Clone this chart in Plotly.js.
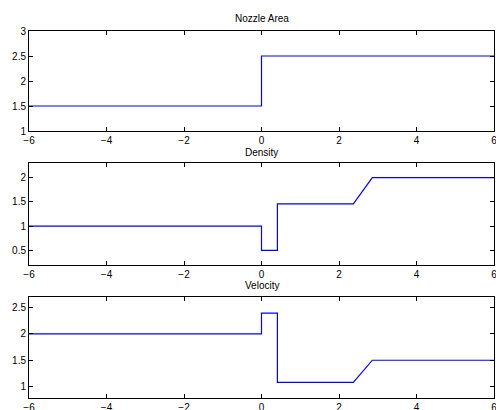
<!DOCTYPE html>
<html>
<head>
<meta charset="utf-8">
<script src="https://cdn.plot.ly/plotly-3.0.1.min.js"></script>
<style>html,body{margin:0;padding:0;background:#fff;}#chart{width:496px;height:410px;}</style>
</head>
<body>
<div id="chart"></div>
<script>
// Nozzle area profile
const areaX = [-6, 0, 0, 6];
const areaY = [1.5, 1.5, 2.5, 2.5];
// Density profile
const densX = [-6, 0, 0, 0.41, 0.41, 2.37, 2.86, 6];
const densY = [1.0, 1.0, 0.5, 0.5, 1.46, 1.46, 2.0, 2.0];
// Velocity profile
const velX = [-6, 0, 0, 0.41, 0.41, 2.37, 2.86, 6];
const velY = [2.0, 2.0, 2.39, 2.39, 1.08, 1.08, 1.5, 1.5];
// Tick values
const xTicks = [-6, -4, -2, 0, 2, 4, 6];
const areaTicks = [1, 1.5, 2, 2.5, 3];
const densTicks = [0.5, 1, 1.5, 2];
const velTicks = [1, 1.5, 2, 2.5];
const titles = ["Nozzle Area", "Density", "Velocity"];

const line = {color: '#0000ff', width: 1.2};
const traces = [
  {x: areaX, y: areaY, xaxis: 'x', yaxis: 'y', mode: 'lines', line: line, hoverinfo: 'skip'},
  {x: densX, y: densY, xaxis: 'x2', yaxis: 'y2', mode: 'lines', line: line, hoverinfo: 'skip'},
  {x: velX, y: velY, xaxis: 'x3', yaxis: 'y3', mode: 'lines', line: line, hoverinfo: 'skip'}
];

const font = {family: 'Liberation Sans, Arial, Helvetica, sans-serif', size: 10, color: '#000'};
function xax(anchor) {
  return {anchor: anchor, range: [-6, 6], tickvals: xTicks, ticktext: xTicks.map(v => v < 0 ? '\u2212' + (-v) : String(v)),
    ticks: 'inside', ticklen: 4, tickcolor: '#000', showline: true, linecolor: '#000', linewidth: 1,
    mirror: 'ticks', showgrid: false, zeroline: false, tickfont: font, domain: [0, 1],
    ticklabeloverflow: 'allow'};
}
function yax(anchor, range, ticks, dom) {
  return {anchor: anchor, range: range, tickvals: ticks, ticks: 'inside', ticklen: 4, tickcolor: '#000',
    showline: true, linecolor: '#000', linewidth: 1, mirror: 'ticks', showgrid: false, zeroline: false,
    tickfont: font, domain: dom, ticklabeloverflow: 'allow'};
}
const H = 410;
const d1 = [1 - 131 / H, 1 - 31 / H];
const d2 = [1 - 265 / H, 1 - 163 / H];
const d3 = [1 - 398.3 / H, 1 - 297.3 / H];
const layout = {
  width: 496, height: 410,
  margin: {l: 29, r: 2, t: 0, b: 0},
  paper_bgcolor: '#fff', plot_bgcolor: '#fff',
  showlegend: false,
  font: font,
  xaxis: xax('y'), yaxis: yax('x', [1, 3], areaTicks, d1),
  xaxis2: xax('y2'), yaxis2: yax('x2', [0.2, 2.3], densTicks, d2),
  xaxis3: xax('y3'), yaxis3: yax('x3', [0.78, 2.69], velTicks, d3),
  annotations: [
    {text: titles[0], xref: 'paper', yref: 'paper', x: 0.5, y: 1 - 18.7 / H, showarrow: false, xanchor: 'center', yanchor: 'middle', font: {family: font.family, size: 10, color: '#000'}},
    {text: titles[1], xref: 'paper', yref: 'paper', x: 0.5, y: 1 - 152.7 / H, showarrow: false, xanchor: 'center', yanchor: 'middle', font: {family: font.family, size: 10, color: '#000'}},
    {text: titles[2], xref: 'paper', yref: 'paper', x: 0.5, y: 1 - 285.7 / H, showarrow: false, xanchor: 'center', yanchor: 'middle', font: {family: font.family, size: 10, color: '#000'}}
  ]
};
Plotly.newPlot('chart', traces, layout, {staticPlot: true, displayModeBar: false});
</script>
</body>
</html>
